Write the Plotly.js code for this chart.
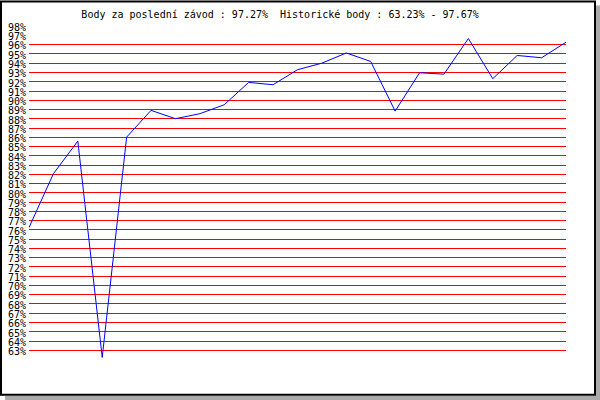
<!DOCTYPE html>
<html>
<head>
<meta charset="utf-8">
<script src="https://cdn.plot.ly/plotly-3.0.1.min.js"></script>
<style>
  html, body { margin: 0; padding: 0; background: #ffffff; }
  #chart { width: 600px; height: 400px; }
</style>
</head>
<body>
<div id="chart"></div>
<script>
// ---- data ----
var raceIndex = [0,1,2,3,4,5,6,7,8,9,10,11,12,13,14,15,16,17,18,19,20,21,22];
var points = [77.25, 83.07, 86.59, 63.23, 87.02, 89.91, 89.01, 89.55, 90.52, 92.93, 92.68,
              94.30, 95.01, 96.11, 95.19, 89.83, 93.97, 93.82, 97.67, 93.33, 95.84, 95.59, 97.27];
var tickValues = [63,64,65,66,67,68,69,70,71,72,73,74,75,76,77,78,79,80,
                  81,82,83,84,85,86,87,88,89,90,91,92,93,94,95,96,97,98];
var tickLabels = tickValues.map(function (v) { return v + '%'; });
var titleText = 'Body za poslední závod : 97.27%  Historické body : 63.23% - 97.67%';

// ---- layout geometry (pixels) ----
var W = 600, H = 400;
var L = 29, R = 566, T = 35, B = 359.3;
var yMin = 62.95, yMax = 98.05;           // slightly padded so edge grid lines are drawn
var pxPerUnit = (B - T) / 35;
var Tm = T - (yMax - 98) * pxPerUnit;
var Bm = B + (63 - yMin) * pxPerUnit;
function px(x) { return (x - L) / (R - L); }
function py(y) { return (Bm - y) / (Bm - Tm); }

var mono = 'DejaVu Sans Mono, monospace';

var trace = {
  x: raceIndex,
  y: points,
  type: 'scatter',
  mode: 'lines',
  line: { color: '#0000ff', width: 1 },
  hoverinfo: 'skip'
};

var layout = {
  width: W,
  height: H,
  margin: { l: L, r: W - R, t: Tm, b: H - Bm, pad: 0 },
  paper_bgcolor: '#ffffff',
  plot_bgcolor: '#ffffff',
  showlegend: false,
  title: {
    text: titleText,
    font: { family: mono, size: 10, color: '#000000' },
    x: 280.5 / W,
    xanchor: 'center',
    xref: 'paper',
    y: 1 - 14 / H,
    yanchor: 'middle',
    yref: 'container'
  },
  xaxis: {
    range: [0, 22],
    showgrid: false,
    zeroline: false,
    showline: false,
    showticklabels: false,
    ticks: '',
    fixedrange: true
  },
  yaxis: {
    range: [yMin, yMax],
    tickmode: 'array',
    tickvals: tickValues,
    ticktext: tickLabels,
    showgrid: true,
    gridcolor: '#ff0000',
    gridwidth: 1,
    zeroline: false,
    showline: false,
    ticks: '',
    ticklabelstandoff: 2,
    ticklabelshift: -8,
    tickfont: { family: mono, size: 10, color: '#000000' },
    fixedrange: true
  },
  shapes: [
    // drop shadow (right and bottom)
    { type: 'rect', xref: 'paper', yref: 'paper', layer: 'above',
      x0: px(596), x1: px(600), y0: py(400), y1: py(5),
      fillcolor: '#aaaaaa', line: { width: 0 } },
    { type: 'rect', xref: 'paper', yref: 'paper', layer: 'above',
      x0: px(5), x1: px(600), y0: py(400), y1: py(395.5),
      fillcolor: '#aaaaaa', line: { width: 0 } },
    // black frame
    { type: 'rect', xref: 'paper', yref: 'paper', layer: 'above',
      x0: px(1), x1: px(595), y0: py(394.5), y1: py(1),
      fillcolor: 'rgba(0,0,0,0)', line: { color: '#000000', width: 2 } }
  ]
};

Plotly.newPlot('chart', [trace], layout, { displayModeBar: false, staticPlot: true });
</script>
</body>
</html>
